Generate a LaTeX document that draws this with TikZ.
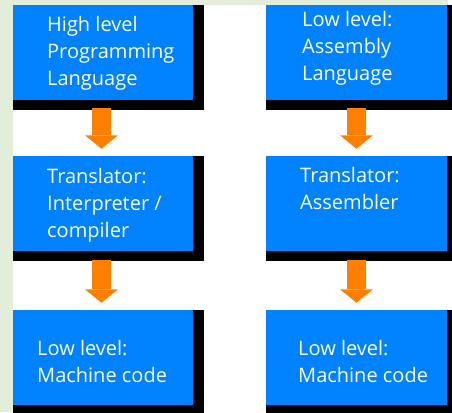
\documentclass[tikz,border=0pt]{standalone}
\usepackage{fontspec}
\setmainfont{Open Sans}
\usetikzlibrary{arrows.meta,backgrounds}
\definecolor{paleg}{RGB}{226,238,217}
\definecolor{boxblue}{RGB}{0,130,255}
\definecolor{arroworange}{RGB}{255,128,0}
\tikzset{
  box/.style={shape=rectangle,fill=boxblue,minimum width=180pt,minimum height=95pt,inner sep=0pt},
  lbl/.style={text=white,font=\fontsize{20}{27}\selectfont,align=left,inner sep=0pt,anchor=base west},
  flow/.style={arroworange,line width=18.5pt,-{Triangle[width=33pt,length=13.5pt,line width=0pt]}}
}
\begin{document}
\begin{tikzpicture}[x=1pt,y=-1pt]
\useasboundingbox (0,0) rectangle (452,412);
\clip (0,0) rectangle (452,412);
\node(hll) at (103,52.5)[box]{};
\node(all) at (356.5,52.5)[box,minimum width=181pt]{};
\node(tri) at (103,203.5)[box]{};
\node(tra) at (356.5,203.5)[box,minimum width=181pt]{};
\node(mcl) at (103,357.5)[box]{};
\node(mcr) at (356.5,357.5)[box,minimum width=181pt]{};

\begin{scope}[on background layer]
\fill[paleg] (0,0) rectangle (448,5);
\fill[paleg] (0,0) rectangle (13,412);
\fill[black] (hll.north west) rectangle ([shift={(11pt,-10pt)}]hll.south east);
\fill[black] (all.north west) rectangle ([shift={(11pt,-10pt)}]all.south east);
\fill[black] (tri.north west) rectangle ([shift={(11pt,-10pt)}]tri.south east);
\fill[black] (tra.north west) rectangle ([shift={(11pt,-10pt)}]tra.south east);
\fill[black] (mcl.north west) rectangle ([shift={(11pt,-10pt)}]mcl.south east);
\fill[black] (mcr.north west) rectangle ([shift={(11pt,-10pt)}]mcr.south east);
\end{scope}

% base anchor = baseline of the last line
\node(hlltext) at (47,85)[lbl]{High level\\Programming\\Language};
\node(alltext) at (302,81)[lbl]{Low level:\\Assembly\\Language};
\node(tritext) at (47,237)[lbl]{Translator:\\Interpreter /\\compiler};
\node(tratext) at (300,209)[lbl]{Translator:\\Assembler};
\node(mcltext) at (37,382)[lbl]{Low level:\\Machine code};
\node(mcrtext) at (298,382)[lbl]{Low level:\\Machine code};

\draw[flow] ([shift={(-1.5pt,-8pt)}]hll.south) -- ([shift={(-1.5pt,7pt)}]tri.north);
\draw[flow] ([shift={(-1.5pt,-9pt)}]tri.south) -- ([shift={(-1.5pt,7pt)}]mcl.north);
\draw[flow] ([yshift=-8pt]all.south) -- ([yshift=7pt]tra.north);
\draw[flow] ([yshift=-9pt]tra.south) -- ([yshift=7pt]mcr.north);

\end{tikzpicture}
\end{document}
